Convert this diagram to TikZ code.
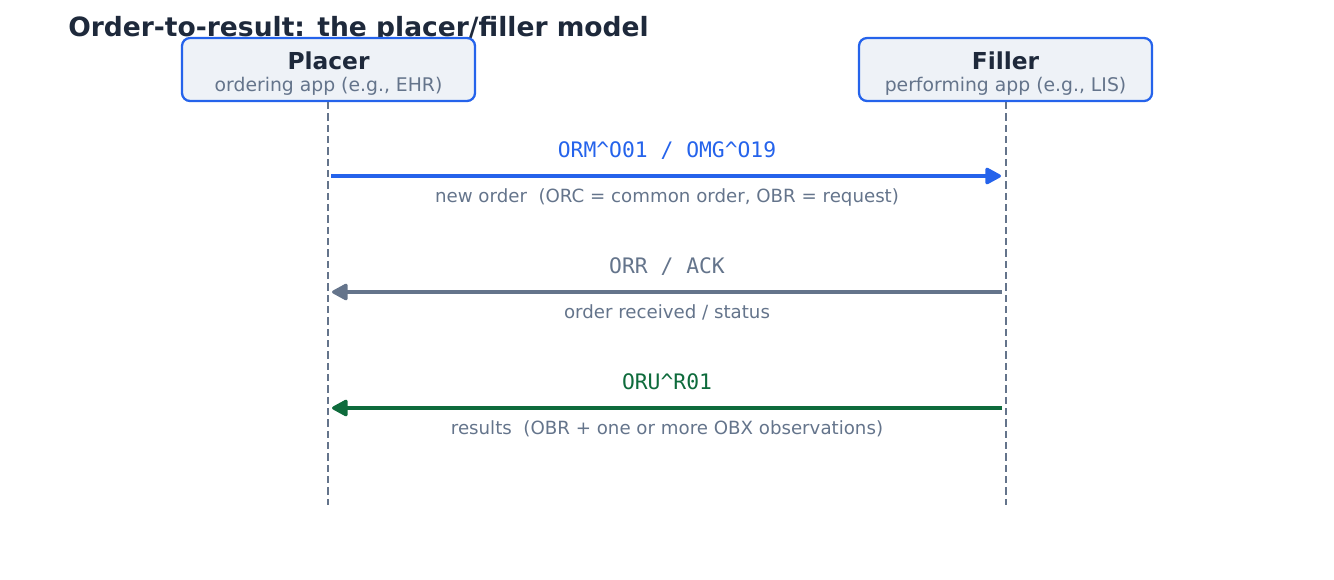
\documentclass[tikz,border=0pt]{standalone}
\usepackage{fontspec}
\setmainfont{DejaVu Sans}
\setmonofont{DejaVu Sans Mono}
\usetikzlibrary{arrows.meta}

\definecolor{msgblue}{HTML}{2563EB}
\definecolor{slate}{HTML}{64748B}
\definecolor{ink}{HTML}{1E293B}
\definecolor{boxfill}{HTML}{EEF2F7}
\definecolor{resgreen}{HTML}{0E6B3C}

\begin{document}
\begin{tikzpicture}[x=0.75pt,y=-0.75pt,
  actor/.style={draw=msgblue,fill=boxfill,line width=1.7pt,rounded corners=6pt,
    minimum width=219.75pt,minimum height=47.25pt,inner sep=0pt},
  life/.style={slate,line width=1.5pt,dash pattern=on 5.5pt off 3pt},
  msg/.style={line width=2.3pt,-{Triangle[length=13pt,width=13.5pt,round]}},
  code/.style={anchor=base,font=\fontsize{16}{19}\selectfont\ttfamily},
  note/.style={anchor=base,text=slate,font=\fontsize{13.65}{16}\selectfont}]
  \useasboundingbox (0,0) rectangle (1334,579);

  \node[anchor=base west,inner sep=0pt,text=ink,font=\fontsize{19.9}{23}\selectfont\bfseries]
    at (68,36) (title) {Order-to-result: the placer/filler model};

  \node[actor] at (328.5,69.5) (placer) {};
  \node[anchor=base,text=ink,font=\fontsize{17.5}{21}\selectfont\bfseries] at (328.5,69) (placerT) {Placer};
  \node[anchor=base,text=slate,font=\fontsize{14.1}{17}\selectfont] at (328.5,91) (placerS) {ordering app (e.g., EHR)};

  \node[actor] at (1005.5,69.5) (filler) {};
  \node[anchor=base,text=ink,font=\fontsize{17.5}{21}\selectfont\bfseries] at (1005.5,69) (fillerT) {Filler};
  \node[anchor=base,text=slate,font=\fontsize{14.1}{17}\selectfont] at (1005.5,91) (fillerS) {performing app (e.g., LIS)};

  \coordinate (placerEnd) at (328,505);
  \coordinate (fillerEnd) at (1006,505);
  \draw[life] (placer.south -| placerEnd) -- (placerEnd);
  \draw[life] (filler.south -| fillerEnd) -- (fillerEnd);

  % order
  \coordinate (p1) at (331,176);
  \coordinate (f1) at (1001,176);
  \draw[msg,msgblue] (p1) -- (f1);
  \node[code,text=msgblue] at (667,157) (m1) {ORM\textasciicircum O01 / OMG\textasciicircum O19};
  \node[note] at (667,202) (n1) {new order\ \ (ORC = common order, OBR = request)};

  % ack
  \coordinate (f2) at (1002,292);
  \coordinate (p2) at (332,292);
  \draw[msg,slate] (f2) -- (p2);
  \node[code,text=slate] at (667,273) (m2) {ORR / ACK};
  \node[note] at (667,318) (n2) {order received / status};

  % result
  \coordinate (f3) at (1002,408);
  \coordinate (p3) at (332,408);
  \draw[msg,resgreen] (f3) -- (p3);
  \node[code,text=resgreen] at (667,389) (m3) {ORU\textasciicircum R01};
  \node[note] at (667,434) (n3) {results\ \ (OBR + one or more OBX observations)};
\end{tikzpicture}
\end{document}
